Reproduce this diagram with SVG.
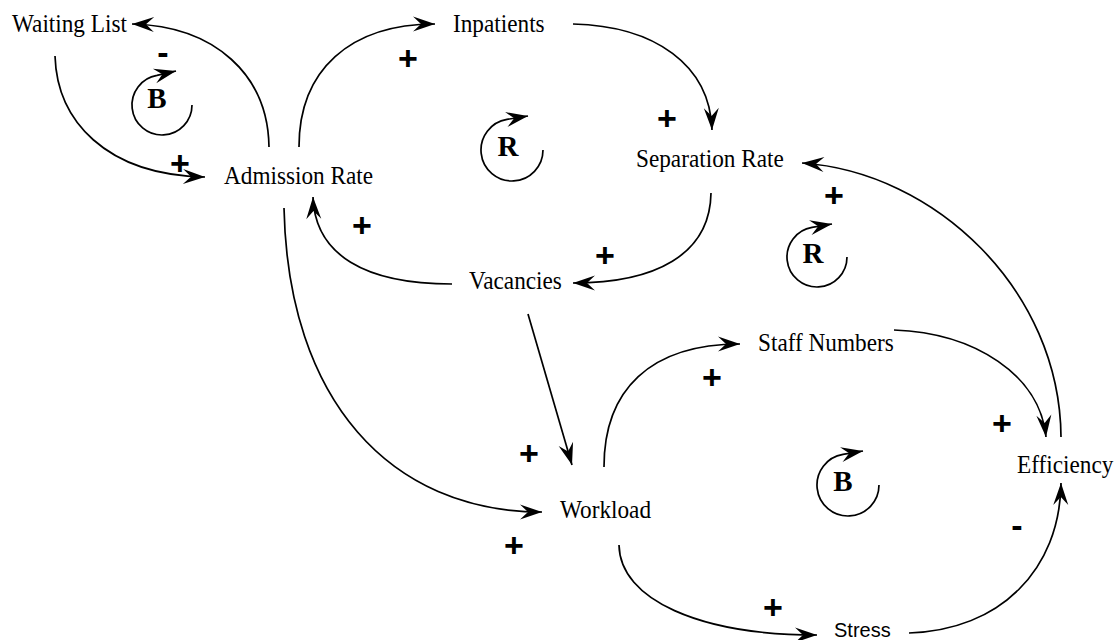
<svg xmlns="http://www.w3.org/2000/svg" width="1119" height="640" viewBox="0 0 1119 640">
<defs>
<marker id="ah" markerUnits="userSpaceOnUse" markerWidth="24" markerHeight="18" viewBox="-23 -9 24 18" refX="0" refY="0" orient="auto">
<path d="M0,0 L-22,-7.5 L-14,0 L-22,7.5 Z" fill="#000"/>
</marker>
</defs>
<style>
.lbl{font-family:"Liberation Serif","Times New Roman",serif;font-size:25px;fill:#000}
.sans{font-family:"Liberation Sans",Arial,sans-serif;font-size:20px;fill:#000}
.sign{font-family:"Liberation Sans",Arial,sans-serif;font-size:34px;font-weight:bold;fill:#000;text-anchor:middle}
.loopl{font-family:"Liberation Serif","Times New Roman",serif;font-size:29px;font-weight:bold;fill:#000;text-anchor:middle}
.c{fill:none;stroke:#000;stroke-width:1.7;marker-end:url(#ah)}
</style>
<rect width="1119" height="640" fill="#fff"/>
<g id="connectors">
<path class="c" d="M269,147 C268,75 215,26 132,24"/>
<path class="c" d="M55,56 C57,120 105,175 205,177"/>
<path class="c" d="M299,147 C299,70 350,24 435,24"/>
<path class="c" d="M573,24 C655,26 710,65 712,130"/>
<path class="c" d="M711,193 C710,255 655,283 573,283"/>
<path class="c" d="M452,284 C365,284 315,255 313,197"/>
<path class="c" d="M284,208 C288,400 390,512 542,512"/>
<path class="c" d="M528,314 L572,465"/>
<path class="c" d="M604,467 C604,390 650,344 740,344"/>
<path class="c" d="M894,330 C975,333 1040,375 1046,437"/>
<path class="c" d="M1061,437 C1060,290 935,172 802,163"/>
<path class="c" d="M619,545 C620,600 700,635 817,635"/>
<path class="c" d="M909,633 C1000,630 1060,570 1061,483"/>
</g>
<g id="loops">
<g id="loop-b1"><path class="c" d="M192,105 A30 30 0 1 1 157,75.4 L176,71"/><text class="loopl" x="157" y="108">B</text></g>
<g id="loop-r1"><path class="c" d="M543,150 A31 31 0 1 1 507,119.4 L528,116"/><text class="loopl" x="508" y="156">R</text></g>
<g id="loop-r2"><path class="c" d="M847,257 A30 30 0 1 1 812,227.4 L832,224"/><text class="loopl" x="813" y="263">R</text></g>
<g id="loop-b2"><path class="c" d="M879,485 A31 31 0 1 1 843,454.4 L863,451"/><text class="loopl" x="843" y="491">B</text></g>
</g>
<g id="node-waiting-list"><text class="lbl" transform="translate(12,32) scale(0.93,1)">Waiting List</text></g>
<g id="node-inpatients"><text class="lbl" transform="translate(453,32) scale(0.93,1)">Inpatients</text></g>
<g id="node-admission-rate"><text class="lbl" transform="translate(224,184) scale(0.93,1)">Admission Rate</text></g>
<g id="node-separation-rate"><text class="lbl" transform="translate(636,167) scale(0.93,1)">Separation Rate</text></g>
<g id="node-vacancies"><text class="lbl" transform="translate(469,289) scale(0.93,1)">Vacancies</text></g>
<g id="node-staff-numbers"><text class="lbl" transform="translate(758,351) scale(0.93,1)">Staff Numbers</text></g>
<g id="node-workload"><text class="lbl" transform="translate(560,518) scale(0.93,1)">Workload</text></g>
<g id="node-efficiency"><text class="lbl" transform="translate(1017,473) scale(0.93,1)">Efficiency</text></g>
<g id="node-stress"><text class="sans" x="834" y="637">Stress</text></g>
<g id="polarities">
<text class="sign" x="180" y="175">+</text>
<text class="sign" x="408" y="70">+</text>
<text class="sign" x="667" y="130">+</text>
<text class="sign" x="362" y="237">+</text>
<text class="sign" x="605" y="267">+</text>
<text class="sign" x="834" y="207">+</text>
<text class="sign" x="712" y="389">+</text>
<text class="sign" x="529" y="465">+</text>
<text class="sign" x="514" y="557">+</text>
<text class="sign" x="1002" y="435">+</text>
<text class="sign" x="773" y="619">+</text>
<text class="sign" x="163" y="64">-</text>
<text class="sign" x="1017" y="537">-</text>
</g>
</svg>
